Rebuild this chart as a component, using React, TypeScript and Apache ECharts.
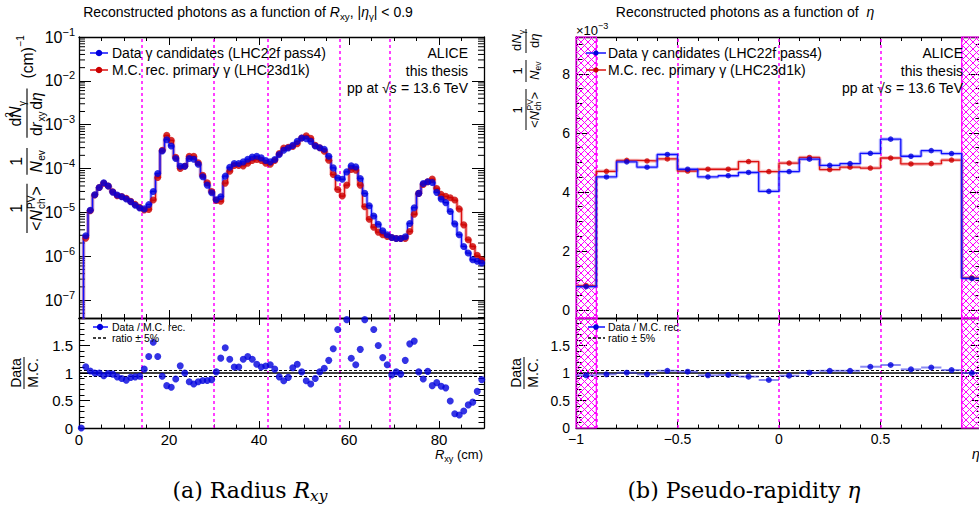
import React, { useEffect, useRef } from "react";
import * as echarts from "echarts";

const W = 979;
const H = 511;
const FONT = '"Liberation Sans", Arial, Helvetica, sans-serif';
const SERIF = '"DejaVu Serif", "Liberation Serif", "Times New Roman", serif';

const BLUE = "#0000dd";
const BLUE_LINE = "#1010ff";
const BLUE_HALO = "rgba(70,70,255,0.35)";
const RED = "#cc0000";
const RED_LINE = "#dd1111";
const RED_HALO = "rgba(230,60,60,0.35)";
const MAG = "#ff00ff";

// ---------------- R_xy panel (bins of 1 cm from 0 to 90) ----------------
const rxyBinStart = 0;
const rxyBinWidth = 1;
const rxyData = [
  1e-9, 2.92e-6, 1.12e-5, 2.53e-5, 3.71e-5, 4.73e-5, 3.98e-5, 2.9e-5, 2.48e-5, 2.28e-5,
  2.02e-5, 1.75e-5, 1.45e-5, 1.26e-5, 1.2e-5, 1.5e-5, 3.0e-5, 7.7e-5, 2.51e-4, 4.55e-4,
  3.27e-4, 1.69e-4, 1.13e-4, 1.13e-4, 1.69e-4, 1.63e-4, 1.25e-4, 6.5e-5, 4.19e-5, 2.8e-5,
  1.95e-5, 2.28e-5, 6.7e-5, 1.07e-4, 1.3e-4, 1.3e-4, 1.42e-4, 1.63e-4, 1.84e-4, 1.91e-4,
  1.75e-4, 1.52e-4, 1.42e-4, 1.6e-4, 2.08e-4, 2.61e-4, 2.94e-4, 3.38e-4, 4.17e-4, 4.96e-4,
  4.78e-4, 4.17e-4, 3.27e-4, 2.99e-4, 2.75e-4, 1.91e-4, 1.035e-4, 6.1e-5, 5.7e-5, 8.4e-5,
  1.15e-4, 1.09e-4, 5.93e-5, 2.71e-5, 1.42e-5, 8.3e-6, 5.37e-6, 3.8e-6, 3.09e-6, 2.68e-6,
  2.54e-6, 2.54e-6, 2.77e-6, 5.6e-6, 1.28e-5, 2.71e-5, 4.57e-5, 4.99e-5, 4.82e-5, 2.86e-5,
  2.02e-5, 1.67e-5, 1.05e-5, 5.47e-6, 3.09e-6, 1.67e-6, 1.18e-6, 8.3e-7, 7.65e-7, 7.0e-7,
];
const rxyMC = [
  1e-9, 2.59e-6, 1.09e-5, 2.5e-5, 3.7e-5, 4.6e-5, 4.0e-5, 2.95e-5, 2.4e-5, 2.3e-5,
  2.1e-5, 1.78e-5, 1.52e-5, 1.3e-5, 1.13e-5, 1.16e-5, 1.91e-5, 6.25e-5, 2.6e-4, 5.7e-4,
  4.39e-4, 1.8e-4, 1.0e-4, 1.13e-4, 1.9e-4, 1.9e-4, 1.35e-4, 7.06e-5, 4.73e-5, 3.0e-5,
  1.88e-5, 1.79e-5, 4.65e-5, 8.7e-5, 1.17e-4, 1.17e-4, 1.15e-4, 1.32e-4, 1.52e-4, 1.6e-4,
  1.52e-4, 1.32e-4, 1.25e-4, 1.52e-4, 2.19e-4, 2.94e-4, 3.05e-4, 3.2e-4, 3.69e-4, 4.96e-4,
  5.6e-4, 4.9e-4, 3.38e-4, 2.99e-4, 2.47e-4, 1.55e-4, 7.3e-5, 3.34e-5, 2.36e-5, 4.19e-5,
  9.5e-5, 9.2e-5, 4.19e-5, 1.35e-5, 6.98e-6, 4.59e-6, 3.55e-6, 3.09e-6, 2.82e-6, 2.68e-6,
  2.54e-6, 2.54e-6, 2.55e-6, 3.66e-6, 9.06e-6, 2.71e-5, 4.35e-5, 4.99e-5, 5.73e-5, 3.52e-5,
  2.57e-5, 2.32e-5, 2.16e-5, 1.91e-5, 1.2e-5, 5.19e-6, 2.37e-6, 1.67e-6, 1.05e-6, 8.3e-7,
];
const rxyRatio = [
  0, 1.115, 1.036, 1.0, 1.0, 0.95, 0.99, 0.98, 0.93, 0.9,
  0.87, 0.92, 0.93, 0.94, 1.07, 1.3, 1.56, 1.3, 0.94, 0.77,
  0.74, 0.89, 1.13, 1.0, 0.84, 0.8, 0.84, 0.865, 0.865, 0.88,
  1.02, 1.27, 1.46, 1.25, 1.11, 1.11, 1.25, 1.3, 1.25, 1.16,
  1.11, 1.127, 1.15, 1.07, 0.93, 0.86, 0.92, 1.097, 1.16, 1.02,
  0.86, 0.8, 0.9, 1.02, 1.085, 1.23, 1.44, 1.79, 2.4, 1.97,
  1.267, 1.15, 1.43, 1.97, 2.05, 1.79, 1.5, 1.28, 1.15, 0.964,
  1.02, 0.98, 1.23, 1.53, 1.58, 1.02, 0.89, 1.03, 0.77, 0.825,
  0.76, 0.73, 0.49, 0.26, 0.235, 0.31, 0.42, 0.47, 0.666, 0.88,
];
const rxyMarkers = [14, 30, 42, 58, 69];
const rxyRange = [0, 90];
const rxyLogRange = [3.9e-8, 0.1];

// ---------------- eta panel (bins of 0.1 from -1 to 1), values x 1e-3 ----------------
const etaBinStart = -1;
const etaBinWidth = 0.1;
const etaData = [0.79, 4.51, 5.02, 4.84, 5.27, 4.77, 4.51, 4.55, 4.66, 4.02, 4.69, 5.11, 4.9, 4.96, 5.31, 5.79, 5.21, 5.4, 5.3, 1.07];
const etaMC = [0.83, 4.7, 5.07, 5.05, 5.12, 4.71, 4.77, 4.77, 5.03, 4.69, 4.98, 5.17, 4.76, 4.84, 4.81, 5.15, 4.95, 4.96, 5.08, 1.09];
const etaRatio = [0.958, 0.976, 1.006, 0.976, 1.04, 1.024, 0.958, 0.964, 0.934, 0.873, 0.952, 1.006, 1.04, 1.04, 1.114, 1.145, 1.066, 1.1, 1.054, 1.0];
const etaMarkers = [-0.9, -0.5, 0, 0.5, 0.9];
const etaExcluded = [[-1, -0.9], [0.9, 1]];
const etaRange = [-1, 1];
const etaYRange = [-0.27, 9.25];

const ratioRange = [0, 2];
const ratioUnity = 1;
const ratioBand = [0.95, 1.05];

// ---------------- helpers ----------------
const stepData = (vals: number[], start: number, w: number) =>
  vals.flatMap((v, i) => [[start + i * w, v], [start + (i + 1) * w, v]]);
const centerData = (vals: number[], start: number, w: number) =>
  vals.map((v, i) => [start + (i + 0.5) * w, v]);

function richSet(size: number, family = FONT) {
  const lh = size + 5;
  const s = Math.round(size * 0.7 * 10) / 10;
  return {
    n: { fontSize: size, fontFamily: family, fontStyle: "normal", lineHeight: lh },
    i: { fontSize: size, fontFamily: family, fontStyle: "italic", lineHeight: lh },
    sup: { fontSize: s, fontFamily: family, fontStyle: "normal", lineHeight: s + 1, verticalAlign: "top" },
    sub: { fontSize: s, fontFamily: family, fontStyle: "normal", lineHeight: s + 1, verticalAlign: "bottom" },
    isub: { fontSize: s, fontFamily: family, fontStyle: "italic", lineHeight: s + 1, verticalAlign: "bottom" },
  };
}

function T(x: number, y: number, text: string, o: any = {}) {
  const size = o.size ?? 14;
  const family = o.family ?? FONT;
  const align = o.align ?? "left";
  const va = o.va ?? "middle";
  return {
    type: "text",
    x,
    y,
    silent: true,
    z: 100,
    style: {
      text,
      fontSize: size,
      fontFamily: family,
      fontStyle: o.italic ? "italic" : "normal",
      fill: o.fill ?? "#000",
      lineHeight: o.lh ?? size + 5,
      align,
      verticalAlign: va,
      textAlign: align,
      textVerticalAlign: va,
      rich: richSet(size, family),
    },
  };
}

function L(x1: number, y1: number, x2: number, y2: number, o: any = {}) {
  return {
    type: "line",
    silent: true,
    z: 100,
    shape: { x1, y1, x2, y2 },
    style: { stroke: o.color ?? "#000", lineWidth: o.width ?? 1, lineDash: o.dash ?? null },
  };
}

function C(cx: number, cy: number, r: number, color: string) {
  return { type: "circle", silent: true, z: 101, shape: { cx, cy, r }, style: { fill: color } };
}

function hatchSegs(x0: number, y0: number, x1: number, y1: number, step: number) {
  const segs: number[][] = [];
  const c0 = Math.floor((y0 - x1) / step) * step;
  for (let c = c0; c <= y1 - x0; c += step) {
    const xa = Math.max(x0, y0 - c);
    const xb = Math.min(x1, y1 - c);
    if (xb > xa) segs.push([xa, xa + c, xb, xb + c]);
  }
  const c1 = Math.floor((x0 + y0) / step) * step;
  for (let c = c1; c <= x1 + y1; c += step) {
    const xa = Math.max(x0, c - y1);
    const xb = Math.min(x1, c - y0);
    if (xb > xa) segs.push([xa, c - xa, xb, c - xb]);
  }
  return segs;
}

const axisLineStyle = { show: true, onZero: false, lineStyle: { color: "#000", width: 1.3 } };
const minusFmt = (v: number) => String(Math.round(v * 1000) / 1000).replace("-", "\u2212");

function xAx(gridIndex: number, position: string, range: number[], interval: number, minorSplit: number, showLabels: boolean, tickLen: number, fontSize = 15) {
  return {
    type: "value",
    gridIndex,
    position,
    min: range[0],
    max: range[1],
    interval,
    axisLine: axisLineStyle,
    axisTick: { show: true, inside: true, length: tickLen, lineStyle: { color: "#000", width: 1 } },
    minorTick: { show: true, splitNumber: minorSplit, length: tickLen / 2, lineStyle: { color: "#000", width: 1 } },
    splitLine: { show: false },
    minorSplitLine: { show: false },
    axisLabel: {
      show: showLabels,
      margin: 4,
      color: "#000",
      fontFamily: FONT,
      fontSize,
      showMinLabel: true,
      showMaxLabel: false,
      formatter: minusFmt,
    },
  };
}

function yLin(gridIndex: number, position: string, range: number[], interval: number | undefined, minorSplit: number, showLabels: boolean, tickLen: number, showMin: boolean, fontSize = 15) {
  const ax: any = {
    type: "value",
    gridIndex,
    position,
    min: range[0],
    max: range[1],
    splitNumber: 5,
    axisLine: axisLineStyle,
    axisTick: { show: true, inside: true, length: tickLen, lineStyle: { color: "#000", width: 1 } },
    minorTick: { show: true, splitNumber: minorSplit, length: tickLen / 2, lineStyle: { color: "#000", width: 1 } },
    splitLine: { show: false },
    minorSplitLine: { show: false },
    axisLabel: {
      show: showLabels,
      margin: 6,
      color: "#000",
      fontFamily: FONT,
      fontSize,
      showMinLabel: showMin,
      showMaxLabel: false,
      formatter: minusFmt,
    },
  };
  if (interval !== undefined) ax.interval = interval;
  return ax;
}

function yLog(gridIndex: number, position: string, showLabels: boolean) {
  return {
    type: "log",
    logBase: 10,
    gridIndex,
    position,
    min: rxyLogRange[0],
    max: rxyLogRange[1],
    axisLine: axisLineStyle,
    axisTick: { show: true, inside: true, length: 12, lineStyle: { color: "#000", width: 1 } },
    minorTick: { show: false },
    splitLine: { show: false },
    minorSplitLine: { show: false },
    axisLabel: {
      show: showLabels,
      margin: 4,
      color: "#000",
      showMinLabel: false,
      formatter: (v: number) => {
        const e = Math.round(Math.log10(v));
        return `{b|10}{s|${e < 0 ? "\u2212" + -e : e}}`;
      },
      rich: {
        b: { fontSize: 16, fontFamily: FONT, color: "#000", lineHeight: 22 },
        s: { fontSize: 11, fontFamily: FONT, color: "#000", lineHeight: 11, verticalAlign: "top" },
      },
    },
  };
}

const vMarks = (vals: number[]) => ({
  silent: true,
  symbol: ["none", "none"],
  label: { show: false },
  lineStyle: { color: MAG, type: [3, 3], width: 1.5 },
  data: vals.map((v) => ({ xAxis: v })),
});

const ratioMarks = () => ({
  silent: true,
  symbol: ["none", "none"],
  label: { show: false },
  lineStyle: { color: "#000", type: "solid", width: 1.5 },
  data: [
    { yAxis: ratioUnity },
    { yAxis: ratioBand[0], lineStyle: { type: [3, 2], width: 1.2, color: "#000" } },
    { yAxis: ratioBand[1], lineStyle: { type: [3, 2], width: 1.2, color: "#000" } },
  ],
});

function stepSeries(xi: number, yi: number, vals: number[], start: number, w: number, color: string, halo: string, z: number) {
  const data = stepData(vals, start, w);
  return [
    {
      type: "line", xAxisIndex: xi, yAxisIndex: yi, data, symbol: "none", showSymbol: false, silent: true, z,
      lineStyle: { color: halo, width: 3.5 }, clip: true,
    },
    {
      type: "line", xAxisIndex: xi, yAxisIndex: yi, data, symbol: "none", showSymbol: false, silent: true, z: z + 1,
      lineStyle: { color, width: 1.3 }, clip: true,
    },
  ];
}

function dotSeries(xi: number, yi: number, vals: number[], start: number, w: number, color: string, size: number, z: number, extra: any = {}) {
  return {
    type: "scatter", xAxisIndex: xi, yAxisIndex: yi, data: centerData(vals, start, w), symbol: "circle",
    symbolSize: size, itemStyle: { color }, silent: true, z, clip: true, ...extra,
  };
}

function hatchSeries(xi: number, yi: number) {
  return {
    type: "custom", xAxisIndex: xi, yAxisIndex: yi, data: etaExcluded, silent: true, z: 8,
    renderItem: (params: any, api: any) => {
      const cs = params.coordSys;
      const xa = api.coord([api.value(0), etaYRange[0]])[0];
      const xb = api.coord([api.value(1), etaYRange[0]])[0];
      const x0 = Math.max(Math.min(xa, xb), cs.x);
      const x1 = Math.max(xa, xb);
      const y0 = cs.y;
      const y1 = cs.y + cs.height;
      const kids: any[] = hatchSegs(x0, y0, x1, y1, 7).map((s) => ({
        type: "line", shape: { x1: s[0], y1: s[1], x2: s[2], y2: s[3] }, style: { stroke: MAG, lineWidth: 1 },
      }));
      kids.push({ type: "rect", shape: { x: x0, y: y0, width: x1 - x0, height: y1 - y0 }, style: { fill: "none", stroke: MAG, lineWidth: 1.2 } });
      return { type: "group", children: kids };
    },
  };
}

function logMinorTicks(xi: number, yi: number) {
  return {
    type: "custom", xAxisIndex: xi, yAxisIndex: yi, data: [[45, 1e-4]], silent: true, z: 9,
    renderItem: (params: any, api: any) => {
      const cs = params.coordSys;
      const kids: any[] = [];
      const eMin = Math.floor(Math.log10(rxyLogRange[0]));
      const eMax = Math.ceil(Math.log10(rxyLogRange[1]));
      for (let e = eMin; e < eMax; e++) {
        for (let m = 2; m <= 9; m++) {
          const v = m * Math.pow(10, e);
          if (v <= rxyLogRange[0] || v >= rxyLogRange[1]) continue;
          const y = api.coord([rxyRange[0], v])[1];
          kids.push({ type: "line", shape: { x1: cs.x, y1: y, x2: cs.x + 6, y2: y }, style: { stroke: "#000", lineWidth: 1 } });
          kids.push({ type: "line", shape: { x1: cs.x + cs.width - 6, y1: y, x2: cs.x + cs.width, y2: y }, style: { stroke: "#000", lineWidth: 1 } });
        }
      }
      return { type: "group", children: kids };
    },
  };
}

function ratioXErr(xi: number, yi: number) {
  return {
    type: "custom", xAxisIndex: xi, yAxisIndex: yi, data: centerData(etaRatio, etaBinStart, etaBinWidth), silent: true, z: 10,
    renderItem: (params: any, api: any) => {
      const c = api.value(0);
      const r = api.value(1);
      const p1 = api.coord([c - etaBinWidth / 2, r]);
      const p2 = api.coord([c + etaBinWidth / 2, r]);
      return { type: "line", shape: { x1: p1[0], y1: p1[1], x2: p2[0], y2: p2[1] }, style: { stroke: "rgba(60,60,235,0.6)", lineWidth: 2 } };
    },
  };
}

function buildGraphics() {
  const els: any[] = [];
  // titles
  els.push(T(248, 12, "Reconstructed photons as a function of {i|R}{sub|xy}, |{i|\u03b7}{sub|\u03b3}| < 0.9", { size: 14, align: "center" }));
  els.push(T(745, 12, "Reconstructed photons as a function of  {i|\u03b7}", { size: 14, align: "center" }));

  // legends top
  const legTop = (x0: number, x1: number, xd: number, xt: number, r: number) => {
    els.push(L(x0, 53, x1, 53, { color: BLUE_LINE, width: 1.5 }), C(xd, 53, r, BLUE));
    els.push(T(xt, 53, "Data \u03b3 candidates (LHC22f pass4)", { size: 14 }));
    els.push(L(x0, 70, x1, 70, { color: RED_LINE, width: 1.5 }), C(xd, 70, r, RED));
    els.push(T(xt, 70, "M.C. rec. primary \u03b3 (LHC23d1k)", { size: 14 }));
  };
  legTop(90, 108, 99, 112, 3.3);
  legTop(586, 606, 596, 608, 2.6);

  // ALICE labels
  const alice = (xr: number) => {
    els.push(T(xr, 53, "ALICE", { size: 14, align: "right" }));
    els.push(T(xr, 71, "this thesis", { size: 14, align: "right" }));
    els.push(T(xr, 88, "pp at \u221a{i|s} = 13.6 TeV", { size: 14, align: "right" }));
  };
  alice(468);
  alice(963);

  // ratio legends
  const legRatio = (x0: number, x1: number, xd: number, xt: number, r: number) => {
    els.push(L(x0, 327, x1, 327, { color: BLUE_LINE, width: 1.5 }), C(xd, 327, r, BLUE));
    els.push(T(xt, 327, "Data / M.C. rec.", { size: 10.5 }));
    els.push(L(x0, 338, x1, 338, { color: "#000", width: 1.3, dash: [3, 2] }));
    els.push(T(xt, 338, "ratio \u00b1 5%", { size: 10.5 }));
  };
  legRatio(93, 108, 100, 112, 3.2);
  legRatio(588, 605, 596, 608, 2.8);

  // axis titles
  els.push(T(483, 454, "{i|R}{sub|xy} (cm)", { size: 13, align: "right" }));
  els.push(T(972, 454, "{i|\u03b7}", { size: 14 }));
  els.push(T(576, 30, "\u00d710{sup|\u22123}", { size: 13 }));

  // ratio y titles
  const ratioTitle = (gx: number) => ({
    type: "group", x: gx, y: 373, rotation: Math.PI / 2, silent: true,
    children: [
      T(0, -1, "Data", { size: 14, align: "center", va: "bottom", lh: 15 }),
      L(-16, 0, 16, 0, { width: 1 }),
      T(0, 1, "M.C.", { size: 14, align: "center", va: "top", lh: 15 }),
    ],
  });
  els.push(ratioTitle(24), ratioTitle(524));

  // left y title (laid out at 14px, scaled)
  const s14 = { size: 14, lh: 15 };
  const s9 = { size: 9, lh: 10 };
  els.push({
    type: "group", x: 27, y: 233, rotation: Math.PI / 2, scaleX: 1.12, scaleY: 1.12, silent: true,
    children: [
      T(22, -2, "1", { ...s14, align: "center", va: "bottom" }),
      L(0, 0, 44, 0),
      T(2, 1, "<", { ...s14, va: "top" }),
      T(10.5, 1, "N", { ...s14, va: "top", italic: true }),
      T(21.5, -1, "PV", { ...s9, va: "top" }),
      T(21.5, 8, "ch", { ...s9, va: "top" }),
      T(33.5, 1, ">", { ...s14, va: "top" }),
      T(64, -2, "1", { ...s14, align: "center", va: "bottom" }),
      L(52, 0, 76, 0),
      T(54, 1, "N", { ...s14, va: "top", italic: true }),
      T(64.5, 8, "ev", { ...s9, va: "top" }),
      T(95, -3, "d", { ...s14, va: "bottom" }),
      T(102.8, -11, "2", { ...s9, va: "bottom" }),
      T(103, -3, "N", { ...s14, va: "bottom", italic: true }),
      T(113.5, 1, "\u03b3", { ...s9, va: "bottom" }),
      L(85, 0, 129, 0),
      T(86.5, 1, "d", { ...s14, va: "top" }),
      T(94.3, 1, "r", { ...s14, va: "top", italic: true }),
      T(99.5, 8, "xy", { ...s9, va: "top" }),
      T(110, 1, "d", { ...s14, va: "top" }),
      T(117.8, 1, "\u03b7", { ...s14, va: "top", italic: true }),
      T(138, 0, "(cm)", { ...s14 }),
      T(166.5, -6, "\u22121", { ...s9 }),
    ],
  });

  // right y title
  const s13 = { size: 13, lh: 14 };
  const s85 = { size: 8.5, lh: 9.5 };
  els.push({
    type: "group", x: 526, y: 130, rotation: Math.PI / 2, silent: true,
    children: [
      T(20, -2, "1", { ...s13, align: "center", va: "bottom" }),
      L(0, 0, 41, 0),
      T(2, 1, "<", { ...s13, va: "top" }),
      T(9.6, 1, "N", { ...s13, va: "top", italic: true }),
      T(19.5, -1, "PV", { ...s85, va: "top" }),
      T(19.5, 7.5, "ch", { ...s85, va: "top" }),
      T(30.5, 1, ">", { ...s13, va: "top" }),
      T(59, -2, "1", { ...s13, align: "center", va: "bottom" }),
      L(48, 0, 70, 0),
      T(50, 1, "N", { ...s13, va: "top", italic: true }),
      T(59.5, 7.5, "ev", { ...s85, va: "top" }),
      T(79, -3, "d", { ...s13, va: "bottom" }),
      T(86.2, -3, "N", { ...s13, va: "bottom", italic: true }),
      T(95.8, 1, "\u03b3", { ...s85, va: "bottom" }),
      L(77, 0, 101, 0),
      T(82, 1, "d", { ...s13, va: "top" }),
      T(89.2, 1, "\u03b7", { ...s13, va: "top", italic: true }),
    ],
  });

  // captions
  els.push(T(250, 490, "(a) Radius {i|R}{isub|xy}", { size: 22, family: SERIF, align: "center" }));
  els.push(T(744, 490, "(b) Pseudo-rapidity {i|\u03b7}", { size: 22, family: SERIF, align: "center" }));
  return els;
}

function buildOption(): any {
  const grids = [
    { left: 79, top: 37, width: 405, height: 281 },
    { left: 79, top: 318, width: 405, height: 110 },
    { left: 576, top: 37, width: 406, height: 281 },
    { left: 576, top: 318, width: 406, height: 110 },
  ].map((g) => ({ ...g, containLabel: false, outerBoundsMode: "none", show: false }));

  const xAxis = [
    xAx(0, "bottom", rxyRange, 20, 4, false, 8),
    xAx(0, "top", rxyRange, 20, 4, false, 8),
    xAx(1, "bottom", rxyRange, 20, 4, true, 7, 15),
    xAx(1, "top", rxyRange, 20, 4, false, 7),
    xAx(2, "bottom", etaRange, 0.5, 5, false, 8),
    xAx(2, "top", etaRange, 0.5, 5, false, 8),
    xAx(3, "bottom", etaRange, 0.5, 5, true, 7, 14),
    xAx(3, "top", etaRange, 0.5, 5, false, 7),
  ];
  const yAxis = [
    yLog(0, "left", true),
    yLog(0, "right", false),
    yLin(1, "left", ratioRange, 0.5, 5, true, 11, true, 15),
    yLin(1, "right", ratioRange, 0.5, 5, false, 11, true),
    yLin(2, "left", etaYRange, undefined, 4, true, 13, false, 14),
    yLin(2, "right", etaYRange, undefined, 4, false, 13, false),
    yLin(3, "left", ratioRange, 0.5, 5, true, 11, true, 14),
    yLin(3, "right", ratioRange, 0.5, 5, false, 11, true),
  ];

  const series: any[] = [
    // --- left top
    logMinorTicks(0, 0),
    ...stepSeries(0, 0, rxyMC, rxyBinStart, rxyBinWidth, RED_LINE, RED_HALO, 20),
    ...stepSeries(0, 0, rxyData, rxyBinStart, rxyBinWidth, BLUE_LINE, BLUE_HALO, 22),
    dotSeries(0, 0, rxyMC, rxyBinStart, rxyBinWidth, RED, 7, 30, { markLine: vMarks(rxyMarkers) }),
    dotSeries(0, 0, rxyData, rxyBinStart, rxyBinWidth, BLUE, 7, 31),
    // --- left ratio
    dotSeries(2, 2, rxyRatio, rxyBinStart, rxyBinWidth, BLUE, 7, 31, { markLine: vMarks(rxyMarkers) }),
    {
      type: "line", xAxisIndex: 2, yAxisIndex: 2, data: centerData(rxyRatio, rxyBinStart, rxyBinWidth),
      symbol: "none", lineStyle: { opacity: 0 }, silent: true, z: 25, markLine: ratioMarks(),
    },
    // --- right top
    hatchSeries(4, 4),
    ...stepSeries(4, 4, etaMC, etaBinStart, etaBinWidth, RED_LINE, RED_HALO, 20),
    ...stepSeries(4, 4, etaData, etaBinStart, etaBinWidth, BLUE_LINE, BLUE_HALO, 22),
    dotSeries(4, 4, etaMC, etaBinStart, etaBinWidth, RED, 5.5, 30, { markLine: vMarks(etaMarkers) }),
    dotSeries(4, 4, etaData, etaBinStart, etaBinWidth, BLUE, 5.5, 31),
    // --- right ratio
    hatchSeries(6, 6),
    ratioXErr(6, 6),
    dotSeries(6, 6, etaRatio, etaBinStart, etaBinWidth, BLUE, 6, 31, { markLine: vMarks(etaMarkers) }),
    {
      type: "line", xAxisIndex: 6, yAxisIndex: 6, data: centerData(etaRatio, etaBinStart, etaBinWidth),
      symbol: "none", lineStyle: { opacity: 0 }, silent: true, z: 25, markLine: ratioMarks(),
    },
  ];

  return {
    animation: false,
    backgroundColor: "#fff",
    textStyle: { fontFamily: FONT },
    grid: grids,
    xAxis,
    yAxis,
    series,
    graphic: { elements: buildGraphics() },
  };
}

export default function App() {
  const ref = useRef<HTMLDivElement>(null);
  useEffect(() => {
    const chart = echarts.init(ref.current as HTMLDivElement, null, { renderer: "svg", width: W, height: H });
    chart.setOption(buildOption());
    return () => chart.dispose();
  }, []);
  return (
    <div
      ref={ref}
      style={{ position: "fixed", left: 0, top: 0, width: W, height: H, background: "#fff", overflow: "hidden" }}
    />
  );
}
